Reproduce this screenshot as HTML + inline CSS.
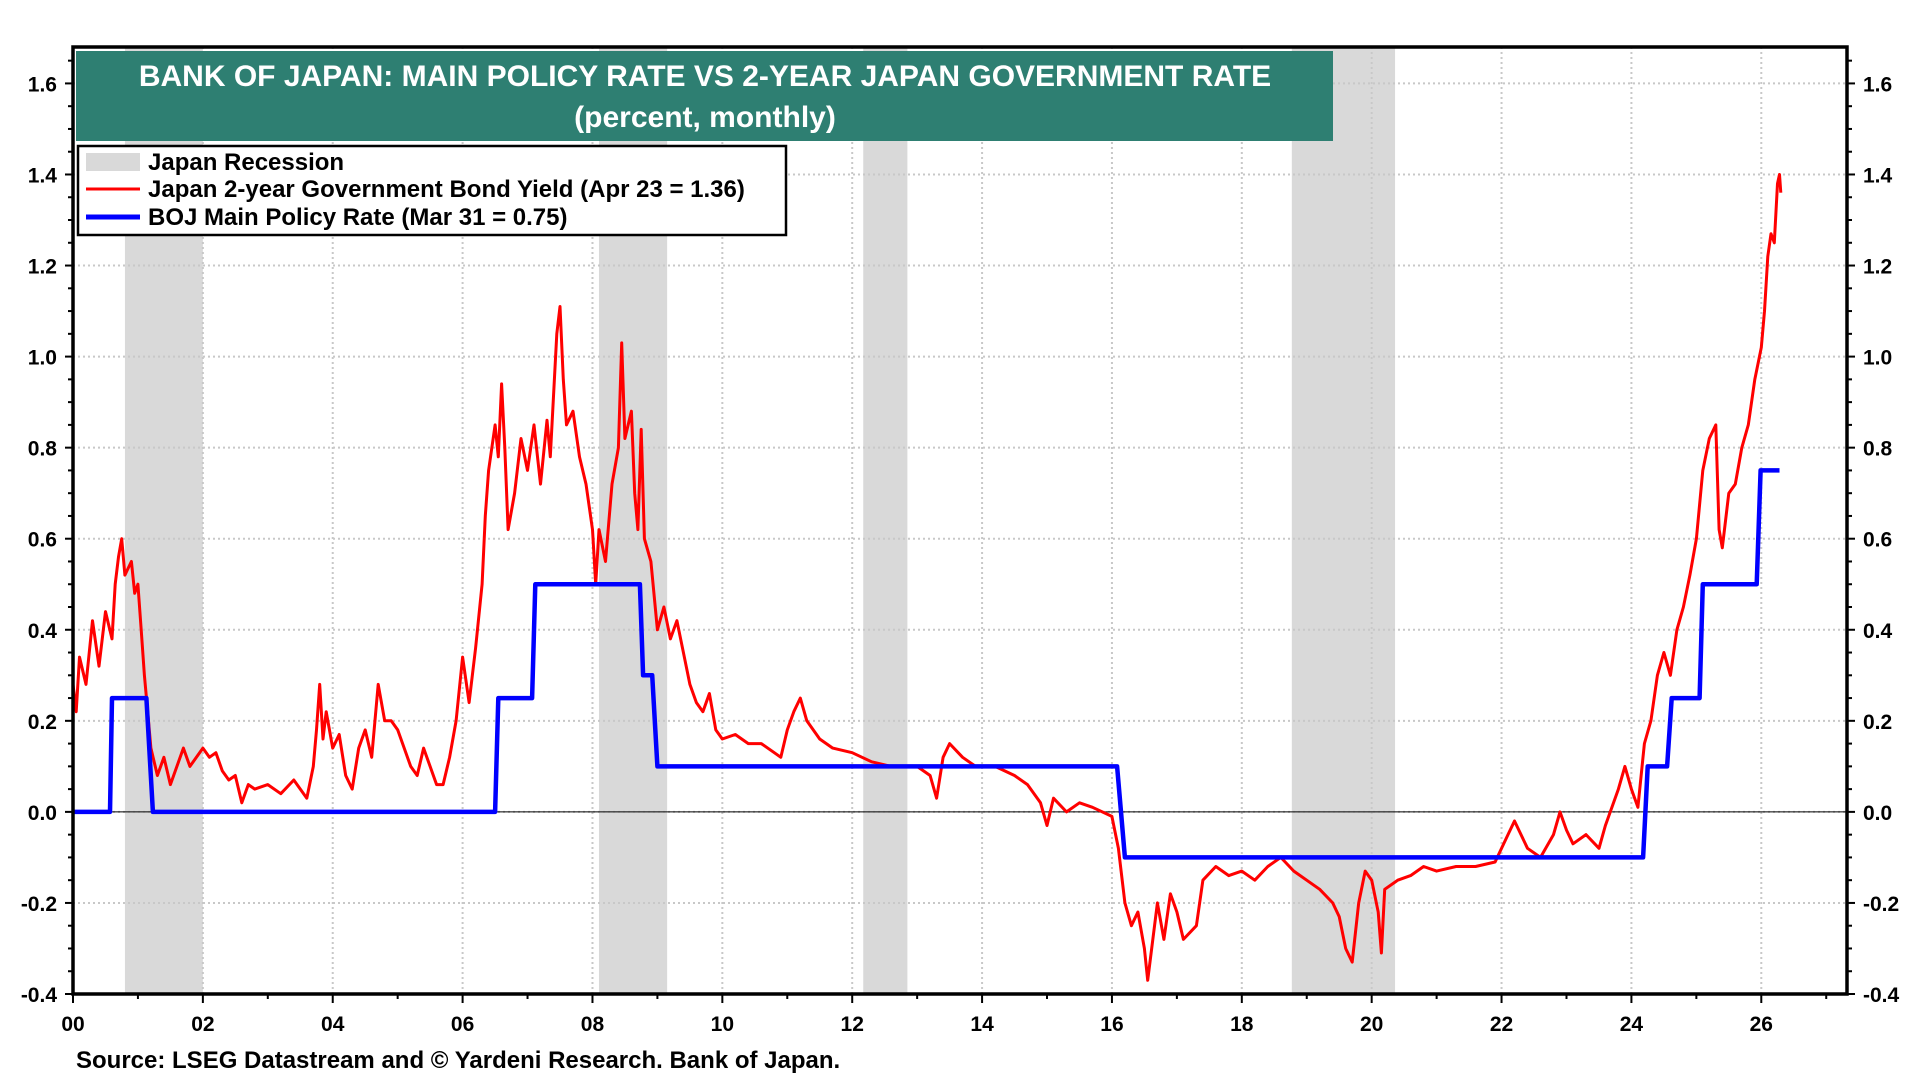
<!DOCTYPE html>
<html><head><meta charset="utf-8">
<style>
html,body{margin:0;padding:0;background:#fff;}
svg{display:block;font-family:"Liberation Sans",Arial,sans-serif;font-weight:bold;}
</style></head>
<body>
<svg id="chart" width="1920" height="1080" viewBox="0 0 1920 1080" xmlns="http://www.w3.org/2000/svg">
<g id="rec"></g>
<g id="grid"></g>
<g id="series"></g>
<g id="axes"></g>
<g>
<rect x="76" y="51" width="1257" height="90" fill="#2e7f72"/>
<text x="705" y="86" text-anchor="middle" fill="#fff" font-size="30">BANK OF JAPAN: MAIN POLICY RATE VS 2-YEAR JAPAN GOVERNMENT RATE</text>
<text x="705" y="127" text-anchor="middle" fill="#fff" font-size="30">(percent, monthly)</text>
</g>
<g>
<rect x="78" y="146" width="708" height="89" fill="#fff" stroke="#000" stroke-width="2.5"/>
<rect x="86" y="153" width="54" height="18" fill="#d9d9d9"/>
<text x="148" y="170" font-size="24">Japan Recession</text>
<line x1="86" y1="189" x2="140" y2="189" stroke="#f00" stroke-width="3"/>
<text x="148" y="197" font-size="24">Japan 2-year Government Bond Yield (Apr 23 = 1.36)</text>
<line x1="86" y1="217" x2="140" y2="217" stroke="#00f" stroke-width="5"/>
<text x="148" y="225" font-size="24">BOJ Main Policy Rate (Mar 31 = 0.75)</text>
</g>
<text x="76" y="1068" font-size="24">Source: LSEG Datastream and © Yardeni Research. Bank of Japan.</text>
</svg>
<script>
const recessions=[[0.8,2.0],[8.1,9.15],[12.17,12.85],[18.77,20.36]];
const policyX=[0,0.57,0.6,1.13,1.23,6.5,6.55,7.07,7.12,8.73,8.78,8.92,9.0,16.08,16.2,24.18,24.25,24.55,24.62,25.05,25.1,25.93,25.99,26.28];
const policyY=[0,0,0.25,0.25,0,0,0.25,0.25,0.5,0.5,0.3,0.3,0.1,0.1,-0.1,-0.1,0.1,0.1,0.25,0.25,0.5,0.5,0.75,0.75];
const yieldX=[0,0.05,0.1,0.2,0.3,0.4,0.5,0.6,0.65,0.7,0.75,0.8,0.9,0.95,1.0,1.05,1.1,1.15,1.2,1.3,1.4,1.5,1.6,1.7,1.8,1.9,2.0,2.1,2.2,2.3,2.4,2.5,2.6,2.7,2.8,3.0,3.2,3.4,3.6,3.7,3.75,3.8,3.85,3.9,4.0,4.1,4.2,4.3,4.4,4.5,4.6,4.7,4.8,4.9,5.0,5.1,5.2,5.3,5.4,5.5,5.6,5.7,5.8,5.9,6.0,6.1,6.2,6.3,6.35,6.4,6.5,6.55,6.6,6.65,6.7,6.8,6.9,7.0,7.1,7.2,7.3,7.35,7.45,7.5,7.55,7.6,7.7,7.8,7.9,8.0,8.05,8.1,8.2,8.3,8.4,8.45,8.5,8.6,8.65,8.7,8.75,8.8,8.9,9.0,9.1,9.2,9.3,9.4,9.5,9.6,9.7,9.8,9.9,10.0,10.2,10.4,10.6,10.8,10.9,11.0,11.1,11.2,11.3,11.5,11.7,12.0,12.3,12.6,12.9,13.0,13.2,13.3,13.4,13.5,13.7,13.9,14.2,14.5,14.7,14.9,15.0,15.1,15.3,15.5,15.7,16.0,16.1,16.2,16.3,16.4,16.5,16.55,16.7,16.8,16.9,17.0,17.1,17.3,17.4,17.6,17.8,18.0,18.2,18.4,18.6,18.8,19.0,19.2,19.4,19.5,19.6,19.7,19.8,19.9,20.0,20.1,20.15,20.2,20.4,20.6,20.8,21.0,21.3,21.6,21.9,22.1,22.2,22.4,22.6,22.8,22.9,23.0,23.1,23.3,23.5,23.6,23.8,23.9,24.0,24.1,24.2,24.3,24.4,24.5,24.6,24.7,24.8,24.9,25.0,25.1,25.2,25.3,25.35,25.4,25.5,25.6,25.7,25.8,25.9,26.0,26.05,26.1,26.15,26.2,26.25,26.28,26.3];
const yieldY=[0.28,0.22,0.34,0.28,0.42,0.32,0.44,0.38,0.5,0.56,0.6,0.52,0.55,0.48,0.5,0.4,0.3,0.22,0.14,0.08,0.12,0.06,0.1,0.14,0.1,0.12,0.14,0.12,0.13,0.09,0.07,0.08,0.02,0.06,0.05,0.06,0.04,0.07,0.03,0.1,0.18,0.28,0.16,0.22,0.14,0.17,0.08,0.05,0.14,0.18,0.12,0.28,0.2,0.2,0.18,0.14,0.1,0.08,0.14,0.1,0.06,0.06,0.12,0.2,0.34,0.24,0.36,0.5,0.65,0.75,0.85,0.78,0.94,0.8,0.62,0.7,0.82,0.75,0.85,0.72,0.86,0.78,1.05,1.11,0.95,0.85,0.88,0.78,0.72,0.62,0.5,0.62,0.55,0.72,0.8,1.03,0.82,0.88,0.7,0.62,0.84,0.6,0.55,0.4,0.45,0.38,0.42,0.35,0.28,0.24,0.22,0.26,0.18,0.16,0.17,0.15,0.15,0.13,0.12,0.18,0.22,0.25,0.2,0.16,0.14,0.13,0.11,0.1,0.1,0.1,0.08,0.03,0.12,0.15,0.12,0.1,0.1,0.08,0.06,0.02,-0.03,0.03,0.0,0.02,0.01,-0.01,-0.08,-0.2,-0.25,-0.22,-0.3,-0.37,-0.2,-0.28,-0.18,-0.22,-0.28,-0.25,-0.15,-0.12,-0.14,-0.13,-0.15,-0.12,-0.1,-0.13,-0.15,-0.17,-0.2,-0.23,-0.3,-0.33,-0.2,-0.13,-0.15,-0.22,-0.31,-0.17,-0.15,-0.14,-0.12,-0.13,-0.12,-0.12,-0.11,-0.05,-0.02,-0.08,-0.1,-0.05,0.0,-0.04,-0.07,-0.05,-0.08,-0.03,0.05,0.1,0.05,0.01,0.15,0.2,0.3,0.35,0.3,0.4,0.45,0.52,0.6,0.75,0.82,0.85,0.62,0.58,0.7,0.72,0.8,0.85,0.95,1.02,1.1,1.22,1.27,1.25,1.38,1.4,1.36];
const yTicks=[-0.4,-0.2,0.0,0.2,0.4,0.6,0.8,1.0,1.2,1.4,1.6];
const xTicks=[0,2,4,6,8,10,12,14,16,18,20,22,24,26];
const xTickLabels=["00","02","04","06","08","10","12","14","16","18","20","22","24","26"];

const L=73,R=1847,T=47,B=994,X0=0,X1=27.32,YMIN=-0.4,YMAX=1.68;
const sx=v=>L+(v-X0)/(X1-X0)*(R-L);
const sy=v=>B-(v-YMIN)/(YMAX-YMIN)*(B-T);
const NS="http://www.w3.org/2000/svg";
function mk(tag,attrs,parent,txt){const e=document.createElementNS(NS,tag);for(const k in attrs)e.setAttribute(k,attrs[k]);if(txt!==undefined)e.textContent=txt;parent.appendChild(e);return e;}
const rec=document.getElementById('rec'),grid=document.getElementById('grid'),ser=document.getElementById('series'),ax=document.getElementById('axes');
recessions.forEach(r=>{const e=mk('rect',{x:sx(r[0]),y:T,width:sx(r[1])-sx(r[0]),height:B-T,fill:'#d9d9d9'},rec);

});
yTicks.forEach(v=>{const g=mk('line',{x1:L,x2:R,y1:sy(v),y2:sy(v),stroke:'#c8c8c8','stroke-width':2,'stroke-dasharray':'2 3'},grid);

});
xTicks.forEach(v=>{const g=mk('line',{x1:sx(v),x2:sx(v),y1:T,y2:B,stroke:'#c8c8c8','stroke-width':2,'stroke-dasharray':'2 3'},grid);

});
const zl=mk('line',{x1:L,x2:R,y1:sy(0),y2:sy(0),stroke:'#000','stroke-width':1},grid);


let d='';yieldX.forEach((x,i)=>{d+=(i?'L':'M')+sx(x).toFixed(1)+' '+sy(yieldY[i]).toFixed(1);});
const yl=mk('path',{d:d,fill:'none',stroke:'#f00','stroke-width':3,'stroke-linejoin':'round'},ser);


let p='';policyX.forEach((x,i)=>{p+=(i?'L':'M')+sx(x).toFixed(1)+' '+sy(policyY[i]).toFixed(1);});
const pl=mk('path',{d:p,fill:'none',stroke:'#00f','stroke-width':4.5,'stroke-linejoin':'round'},ser);


const fr=mk('rect',{x:L,y:T,width:R-L,height:B-T,fill:'none',stroke:'#000','stroke-width':3.5},ax);


for(let v=-0.4;v<=1.66;v+=0.05){const yy=sy(v);const big=Math.abs(Math.round(v*10)-v*10)<0.01&&Math.round(v*10)%2===0;
mk('line',{x1:L-(big?8:5),x2:L,y1:yy,y2:yy,stroke:'#000','stroke-width':2},ax);
mk('line',{x1:R,x2:R+(big?8:5),y1:yy,y2:yy,stroke:'#000','stroke-width':2},ax);}
yTicks.forEach(v=>{const s=v.toFixed(1);
const a=mk('text',{x:L-16,y:sy(v)+8,'text-anchor':'end','font-size':21},ax,s);


const b=mk('text',{x:R+16,y:sy(v)+8,'font-size':21},ax,s);

});
for(let yr=0;yr<=27;yr++){mk('line',{x1:sx(yr),x2:sx(yr),y1:B,y2:B+(yr%2===0?9:5),stroke:'#000','stroke-width':2},ax);}
xTicks.forEach((v,i)=>{const t=mk('text',{x:sx(v),y:1031,'text-anchor':'middle','font-size':21},ax,xTickLabels[i]);

});
</script>
</body></html>
